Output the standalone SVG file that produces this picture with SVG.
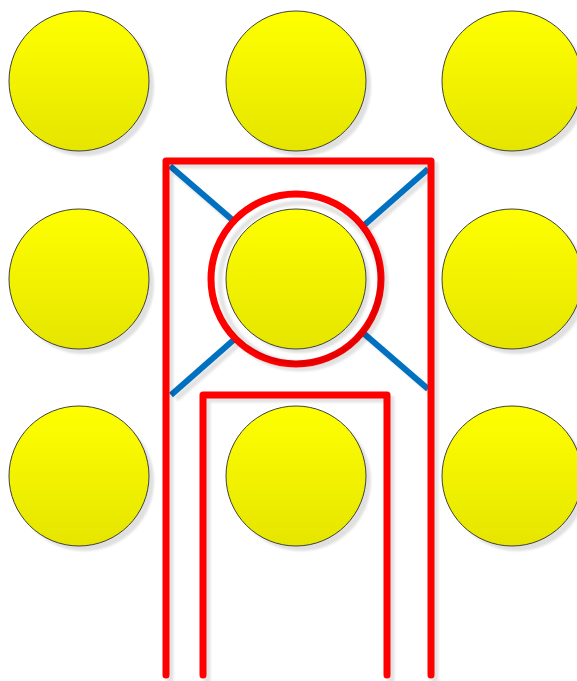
<svg xmlns="http://www.w3.org/2000/svg" width="577" height="681" viewBox="0 0 577 681">
<style>
.ball{fill:url(#yg);stroke:#404040;stroke-width:1}
.sh{fill:#000;fill-opacity:0.12;stroke:none}
.red{fill:none;stroke:#ff0000;stroke-width:7;stroke-linecap:round;stroke-linejoin:round}
.redsh{fill:none;stroke:#000;stroke-opacity:0.11;stroke-width:7;stroke-linecap:round;stroke-linejoin:round}
.blue{fill:none;stroke:#0070c0;stroke-width:6}
.bluesh{fill:none;stroke:#000;stroke-opacity:0.11;stroke-width:6}
</style>
<defs>
<linearGradient id="yg" x1="0" y1="0" x2="0" y2="1">
<stop offset="0" stop-color="#ffff00"/>
<stop offset="1" stop-color="#e5e500"/>
</linearGradient>
<filter id="bl" x="-10%" y="-10%" width="120%" height="120%"><feGaussianBlur stdDeviation="1"/></filter>
</defs>
<rect width="577" height="681" fill="#fff"/>
<g id="lines">
<g filter="url(#bl)">
<line class="bluesh" x1="174" y1="171" x2="431" y2="392"/>
<line class="bluesh" x1="176" y1="399" x2="431" y2="174"/>
</g>
<line class="blue" x1="170" y1="166" x2="428" y2="389"/>
<line class="blue" x1="171" y1="395" x2="428" y2="169"/>
<g filter="url(#bl)">
<path class="redsh" d="M170,679 V165 H435 V679"/>
<path class="redsh" d="M207,679 V399 H391 V679"/>
<circle cx="300" cy="283" r="85" fill="none" stroke="#000" stroke-opacity="0.11" stroke-width="7"/>
</g>
<path class="red" d="M166,675 V161 H431 V675"/>
<path class="red" d="M203,675 V395 H387 V675"/>
<circle cx="296" cy="279" r="85" fill="#fff" stroke="#ff0000" stroke-width="7"/>
<circle cx="300" cy="283" r="80" fill="none" stroke="#000" stroke-opacity="0.11" stroke-width="5" filter="url(#bl)"/>
</g>
<g id="n11"><circle class="sh" cx="84" cy="86" r="70" filter="url(#bl)"/><circle class="ball" cx="79" cy="81" r="70"/></g>
<g id="n12"><circle class="sh" cx="301" cy="86" r="70" filter="url(#bl)"/><circle class="ball" cx="296" cy="81" r="70"/></g>
<g id="n13"><circle class="sh" cx="517" cy="86" r="70" filter="url(#bl)"/><circle class="ball" cx="512" cy="81" r="70"/></g>
<g id="n21"><circle class="sh" cx="84" cy="284" r="70" filter="url(#bl)"/><circle class="ball" cx="79" cy="279" r="70"/></g>
<g id="n22"><circle class="sh" cx="300" cy="283" r="70" filter="url(#bl)"/><circle class="ball" cx="296" cy="279" r="70"/></g>
<g id="n23"><circle class="sh" cx="517" cy="284" r="70" filter="url(#bl)"/><circle class="ball" cx="512" cy="279" r="70"/></g>
<g id="n31"><circle class="sh" cx="84" cy="481" r="70" filter="url(#bl)"/><circle class="ball" cx="79" cy="476" r="70"/></g>
<g id="n32"><circle class="sh" cx="301" cy="481" r="70" filter="url(#bl)"/><circle class="ball" cx="296" cy="476" r="70"/></g>
<g id="n33"><circle class="sh" cx="517" cy="481" r="70" filter="url(#bl)"/><circle class="ball" cx="512" cy="476" r="70"/></g>
</svg>
